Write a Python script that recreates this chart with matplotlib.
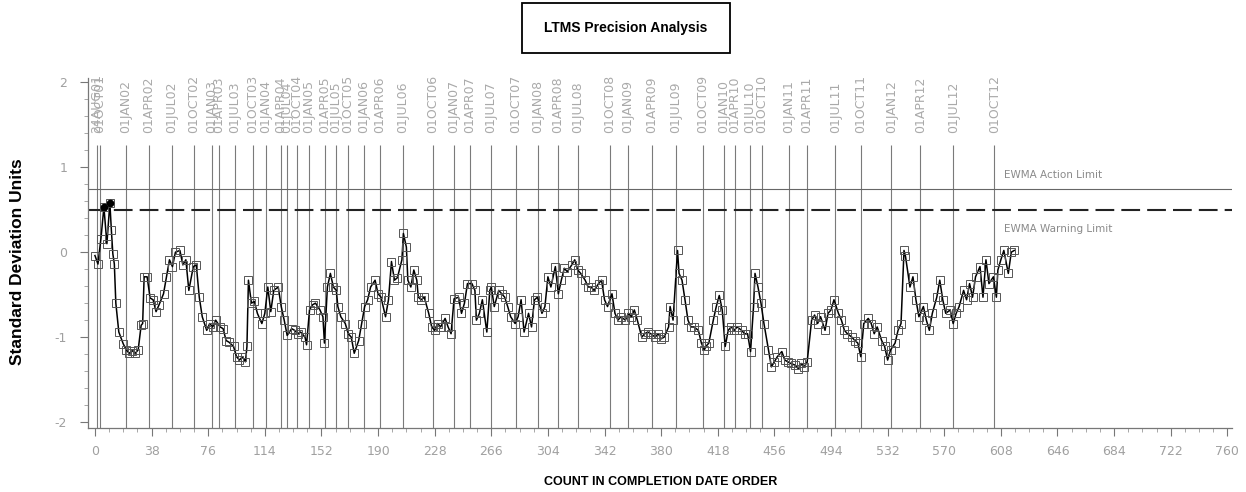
import matplotlib
matplotlib.use("Agg")
import matplotlib.pyplot as plt
from matplotlib.patches import Rectangle
from matplotlib.ticker import MultipleLocator

plt.rcParams['axes.unicode_minus'] = False

# EWMA readings (count in completion date order, standard deviation units)
counts = [0, 2, 4, 6, 8, 10, 11, 12, 13, 14, 16, 19, 21, 23, 25, 27, 29, 31, 32, 33,
          35, 37, 39, 41, 43, 46, 48, 50, 52, 54, 57, 59, 61, 63, 66, 68, 70, 72, 75, 77,
          79, 81, 84, 86, 88, 90, 93, 95, 97, 99, 101, 102, 103, 105, 107, 109, 112, 114, 116, 118,
          120, 123, 125, 127, 129, 132, 134, 136, 138, 141, 142, 144, 146, 148, 151, 153, 154, 156, 158, 160,
          162, 163, 165, 168, 170, 172, 174, 177, 179, 181, 183, 185, 188, 190, 192, 195, 197, 199, 201, 203,
          206, 207, 209, 210, 212, 214, 216, 217, 219, 221, 224, 226, 228, 230, 232, 235, 237, 239, 241, 244,
          246, 248, 250, 253, 255, 256, 258, 260, 263, 265, 266, 268, 271, 273, 275, 277, 279, 282, 284, 286,
          288, 291, 293, 295, 297, 300, 302, 304, 306, 309, 311, 313, 315, 317, 320, 322, 324, 326, 329, 331,
          333, 335, 338, 340, 342, 344, 347, 349, 351, 353, 356, 358, 360, 362, 364, 367, 369, 371, 373, 376,
          378, 380, 382, 385, 386, 388, 391, 392, 394, 396, 398, 400, 402, 405, 407, 409, 410, 412, 415, 417,
          419, 421, 423, 425, 427, 429, 431, 434, 436, 438, 440, 442, 443, 445, 447, 449, 452, 454, 456, 458,
          461, 463, 465, 467, 470, 472, 474, 476, 478, 481, 483, 485, 487, 490, 492, 494, 496, 499, 501, 503,
          505, 508, 510, 512, 514, 516, 519, 521, 523, 525, 528, 530, 532, 534, 537, 539, 541, 543, 544, 547,
          549, 551, 553, 556, 558, 560, 562, 565, 567, 569, 571, 574, 576, 578, 580, 583, 585, 587, 589, 591,
          594, 596, 598, 600, 603, 605, 606, 608, 610, 613, 615, 617]
ewma = [-0.04, -0.14, 0.16, 0.53, 0.10, 0.58, 0.26, -0.02, -0.14, -0.60, -0.94, -1.08, -1.15, -1.19, -1.16, -1.19, -1.15, -0.86, -0.84, -0.29,
        -0.29, -0.54, -0.56, -0.70, -0.62, -0.49, -0.29, -0.09, -0.17, 0.00, 0.02, -0.15, -0.09, -0.45, -0.17, -0.15, -0.53, -0.76, -0.92, -0.84,
        -0.88, -0.80, -0.88, -0.90, -1.04, -1.06, -1.11, -1.23, -1.27, -1.23, -1.29, -1.11, -0.33, -0.60, -0.58, -0.72, -0.84, -0.72, -0.41, -0.70,
        -0.45, -0.41, -0.64, -0.80, -0.98, -0.90, -0.92, -0.96, -0.94, -1.00, -1.09, -0.68, -0.62, -0.60, -0.68, -0.76, -1.07, -0.41, -0.25, -0.41,
        -0.45, -0.64, -0.76, -0.84, -0.96, -1.00, -1.19, -1.04, -0.84, -0.64, -0.56, -0.41, -0.33, -0.49, -0.53, -0.76, -0.56, -0.11, -0.33, -0.30,
        -0.09, 0.22, 0.06, -0.33, -0.41, -0.21, -0.33, -0.53, -0.56, -0.53, -0.72, -0.88, -0.92, -0.84, -0.88, -0.78, -0.88, -0.96, -0.55, -0.53,
        -0.72, -0.60, -0.37, -0.37, -0.45, -0.80, -0.72, -0.56, -0.94, -0.45, -0.41, -0.64, -0.45, -0.49, -0.53, -0.64, -0.76, -0.84, -0.76, -0.56,
        -0.94, -0.72, -0.88, -0.56, -0.53, -0.72, -0.64, -0.29, -0.41, -0.17, -0.49, -0.33, -0.19, -0.23, -0.15, -0.09, -0.21, -0.25, -0.33, -0.41,
        -0.41, -0.45, -0.37, -0.33, -0.56, -0.64, -0.49, -0.72, -0.80, -0.76, -0.80, -0.72, -0.76, -0.68, -0.80, -1.00, -0.96, -0.94, -0.96, -1.00,
        -0.96, -1.02, -1.00, -0.88, -0.64, -0.80, 0.02, -0.25, -0.33, -0.56, -0.80, -0.88, -0.88, -0.92, -1.07, -1.15, -1.11, -1.07, -0.80, -0.64,
        -0.51, -0.68, -1.11, -0.92, -0.88, -0.92, -0.88, -0.92, -0.96, -0.96, -1.17, -0.64, -0.25, -0.41, -0.60, -0.84, -1.15, -1.35, -1.29, -1.23,
        -1.17, -1.27, -1.29, -1.31, -1.33, -1.37, -1.31, -1.35, -1.29, -0.80, -0.74, -0.84, -0.76, -0.92, -0.72, -0.68, -0.56, -0.72, -0.80, -0.92,
        -0.96, -1.00, -1.04, -1.07, -1.23, -0.84, -0.78, -0.84, -0.96, -0.88, -1.04, -1.11, -1.27, -1.15, -1.07, -0.92, -0.84, 0.02, -0.05, -0.41,
        -0.29, -0.56, -0.76, -0.64, -0.80, -0.92, -0.72, -0.53, -0.33, -0.56, -0.72, -0.68, -0.84, -0.72, -0.64, -0.45, -0.56, -0.37, -0.53, -0.29,
        -0.17, -0.53, -0.09, -0.37, -0.29, -0.53, -0.21, -0.09, 0.02, -0.25, 0.00, 0.02]

# quarter boundaries shown as reference lines
date_counts = [1.3, 3.4, 20.8, 36.2, 51.7, 66.4, 78.5, 83.2, 93.9, 106, 114.7, 124.8, 128.8, 135.5, 143.5,
               154.3, 161.7, 169.7, 180.4, 191.2, 206.6, 226.7, 240.8, 251.5, 265.6, 282.4, 297.2, 310.6,
               324, 345.5, 357.5, 373.6, 389.7, 407.8, 421.9, 429.3, 439.4, 447.4, 465.5, 477.6, 497,
               513.8, 534.6, 554, 576.2, 603.7]
date_labels = ['24AUG01', '01OCT01', '01JAN02', '01APR02', '01JUL02', '01OCT02', '01JAN03', '01APR03',
               '01JUL03', '01OCT03', '01JAN04', '01APR04', '01JUL04', '01OCT04', '01JAN05', '01APR05',
               '01JUL05', '01OCT05', '01JAN06', '01APR06', '01JUL06', '01OCT06', '01JAN07', '01APR07',
               '01JUL07', '01OCT07', '01JAN08', '01APR08', '01JUL08', '01OCT08', '01JAN09', '01APR09',
               '01JUL09', '01OCT09', '01JAN10', '01APR10', '01JUL10', '01OCT10', '01JAN11', '01APR11',
               '01JUL11', '01OCT11', '01JAN12', '01APR12', '01JUL12', '01OCT12']

action_limit = 0.74
warning_limit = 0.5

fig = plt.figure(figsize=(12.46, 4.92), dpi=100)
ax = fig.add_axes([0.0706, 0.130, 0.918, 0.7115])
ax.set_xlim(-4.7, 763)
ax.set_ylim(-2.07, 2.05)

ax.vlines(date_counts, -2.07, 1.26, colors='#7a7a7a', lw=0.8, zorder=1)
for c, lab in zip(date_counts, date_labels):
    ax.text(c, 1.40, lab, rotation=90, ha='center', va='bottom', fontsize=9,
            color='#aaaaaa', clip_on=False)

ax.axhline(action_limit, color='#666666', lw=0.8, zorder=1)
ax.axhline(warning_limit, color='#222222', lw=1.5, linestyle=(0, (9, 3.4)), zorder=1)
ax.text(610, 0.906, 'EWMA Action Limit', fontsize=7.5, color='#8a8a8a', va='center', ha='left')
ax.text(610, 0.27, 'EWMA Warning Limit', fontsize=7.5, color='#8a8a8a', va='center', ha='left')

ax.plot(counts, ewma, color='black', lw=1.1, zorder=3,
        marker='s', markersize=5.5, markerfacecolor='none',
        markeredgecolor='#555555', markeredgewidth=0.7)
hi_x = [c for c, v in zip(counts, ewma) if v > warning_limit]
hi_y = [v for v in ewma if v > warning_limit]
ax.plot(hi_x, hi_y, 'o', color='black', markersize=4.5, zorder=4)

for s in ['top', 'right']:
    ax.spines[s].set_visible(False)
for s in ['left', 'bottom']:
    ax.spines[s].set_color('#777777')
    ax.spines[s].set_linewidth(0.9)

ax.set_xticks(range(0, 761, 38))
ax.xaxis.set_minor_locator(MultipleLocator(9.5))
ax.set_yticks([-2, -1, 0, 1, 2])
ax.yaxis.set_minor_locator(MultipleLocator(0.2))
ax.tick_params(which='major', length=6, color='#777777', labelcolor='#a0a0a0', labelsize=9)
ax.tick_params(which='minor', length=3, color='#999999')
ax.tick_params(axis='x', pad=6)
ax.tick_params(axis='y', pad=9)

fig.text(0.0144, 0.469, 'Standard Deviation Units', rotation=90, ha='center', va='center',
         fontsize=12.5, fontweight='bold', family=['Liberation Sans', 'DejaVu Sans'])
fig.text(0.5305, 0.0203, 'COUNT IN COMPLETION DATE ORDER', ha='center', va='center',
         fontsize=9, fontweight='bold', family=['Liberation Sans Narrow', 'Liberation Sans', 'DejaVu Sans'])

fig.patches.append(Rectangle((522 / 1246, 1 - 53 / 492), 208 / 1246, 50 / 492,
                             transform=fig.transFigure, fill=False, lw=1.3, edgecolor='black'))
fig.text(626 / 1246, 1 - 28 / 492, 'LTMS Precision Analysis', ha='center', va='center',
         fontsize=10, fontweight='bold', family=['Liberation Sans Narrow', 'Liberation Sans', 'DejaVu Sans'])

fig.savefig('out.png', dpi=100)
